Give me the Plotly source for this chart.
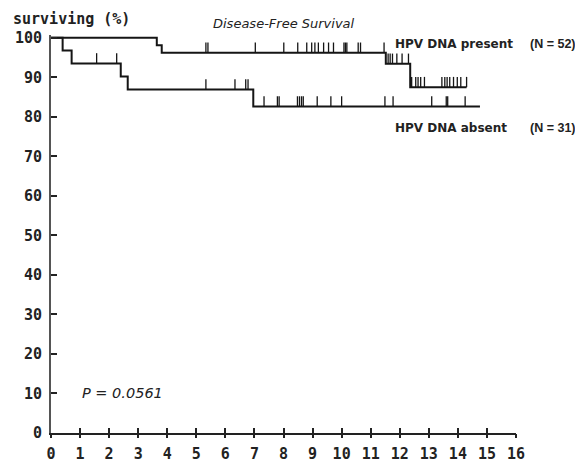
import plotly.graph_objects as go

# ---- data ----
years_ticks = list(range(0, 17))
pct_ticks = list(range(0, 101, 10))

# HPV DNA present (N = 52): step curve (event times, survival after event)
present_t = [0, 3.64, 3.81, 11.52, 12.36, 14.30]
present_s = [100, 98.1, 96.2, 93.4, 87.5, 87.5]
present_cens = [5.33, 5.40, 7.03, 8.01, 8.49, 8.80, 8.97, 9.08, 9.20, 9.38, 9.55,
                9.72, 10.08, 10.13, 10.18, 10.57, 10.65, 11.46,
                11.60, 11.67, 11.75, 11.90, 12.08, 12.30,
                12.41, 12.55, 12.63, 12.72, 12.85, 13.45, 13.55, 13.63, 13.72,
                13.85, 13.98, 14.10, 14.30]

# HPV DNA absent (N = 31)
absent_t = [0, 0.40, 0.71, 2.40, 2.64, 6.96, 14.76]
absent_s = [100, 96.8, 93.5, 90.2, 86.9, 82.6, 82.6]
absent_cens = [1.57, 2.26, 5.33, 6.33, 6.70, 6.78,
               7.33, 7.79, 7.85, 8.48, 8.55, 8.62, 8.68, 9.16, 9.63, 10.00,
               11.49, 11.77, 13.10, 13.60, 13.65, 14.25]

title_text = "Disease-Free Survival"
y_title = "surviving (%)"
lab_present = "HPV DNA present"
lab_absent = "HPV DNA absent"
n_present = "(N = 52)"
n_absent = "(N = 31)"
p_text = "P = 0.0561"

# ---- helpers ----
def level_at(ts, ss, t):
    val = ss[0]
    for ti, si in zip(ts, ss):
        if ti <= t:
            val = si
    return val

CENS_H = 2.6
LINE_C = "#151515"

fig = go.Figure()
for ts, ss, cens in [(present_t, present_s, present_cens), (absent_t, absent_s, absent_cens)]:
    fig.add_trace(go.Scatter(x=ts, y=ss, mode="lines",
                             line=dict(shape="hv", color=LINE_C, width=2),
                             hoverinfo="skip"))
    cy = [level_at(ts, ss, c) for c in cens]
    fig.add_trace(go.Scatter(x=cens, y=cy, mode="markers",
                             marker=dict(size=1, color="rgba(0,0,0,0)"),
                             error_y=dict(type="data", symmetric=False,
                                          array=[CENS_H] * len(cens),
                                          arrayminus=[0] * len(cens),
                                          width=0, thickness=1.3, color=LINE_C),
                             hoverinfo="skip"))

# overlay axis to get ticks crossing the x axis line
fig.add_trace(go.Scatter(x=[0], y=[0], xaxis="x2", mode="markers",
                         marker=dict(size=1, color="rgba(0,0,0,0)"), hoverinfo="skip"))

tickfont = dict(family="DejaVu Sans Mono", size=15, color="#222", weight="bold")

# page body has an 8px margin, so the figure is 575x455 and sits at (8, 8)
fig.update_layout(
    width=575, height=455,
    margin=dict(l=43, r=67, t=27, b=30),
    paper_bgcolor="white", plot_bgcolor="white",
    showlegend=False,
    xaxis=dict(range=[0, 16], tickvals=years_ticks, ticktext=[str(v) for v in years_ticks],
               ticks="inside", ticklen=5, tickwidth=1.5, tickcolor="#222",
               showline=True, linecolor="#222", linewidth=2, automargin=False,
               showgrid=False, zeroline=False, tickfont=tickfont, ticklabelstandoff=6),
    xaxis2=dict(range=[0, 16], tickvals=years_ticks, overlaying="x", anchor="y", side="bottom",
                ticks="outside", ticklen=4, tickwidth=1.5, tickcolor="#222", automargin=False,
                showticklabels=False, showline=False, showgrid=False, zeroline=False),
    yaxis=dict(range=[0, 100.7], tickvals=pct_ticks, ticktext=[str(v) for v in pct_ticks],
               ticks="inside", ticklen=6, tickwidth=1.5, tickcolor="#222",
               showline=True, linecolor="#555", linewidth=2, automargin=False,
               showgrid=False, zeroline=False, tickfont=tickfont, ticklabelstandoff=4),
)

lab_font = dict(family="DejaVu Sans", size=12, color="#222", weight="bold")
n_font = dict(family="Liberation Sans", size=12.5, color="#222", weight="bold")
anns = [
    dict(text=y_title, x=-0.086, y=1.040, xanchor="left", yanchor="middle",
         font=dict(family="DejaVu Sans Mono", size=15, color="#222", weight="bold")),
    dict(text=title_text, x=0.5, y=1.030, xanchor="center", yanchor="middle",
         font=dict(family="DejaVu Sans", size=13, color="#222", style="italic")),
    dict(text=lab_present, x=0.7355, y=0.977, xanchor="left", yanchor="middle", font=lab_font),
    dict(text=n_present, x=1.026, y=0.977, xanchor="left", yanchor="middle", font=n_font),
    dict(text=lab_absent, x=0.7355, y=0.766, xanchor="left", yanchor="middle", font=lab_font),
    dict(text=n_absent, x=1.026, y=0.766, xanchor="left", yanchor="middle", font=n_font),
]
for a in anns:
    fig.add_annotation(xref="paper", yref="paper", showarrow=False, **a)
fig.add_annotation(xref="x", yref="y", x=1.0, y=10.1, text=p_text, showarrow=False,
                   xanchor="left", yanchor="middle",
                   font=dict(family="DejaVu Sans", size=14.5, color="#222", style="italic"))

fig.write_html("out.html")
